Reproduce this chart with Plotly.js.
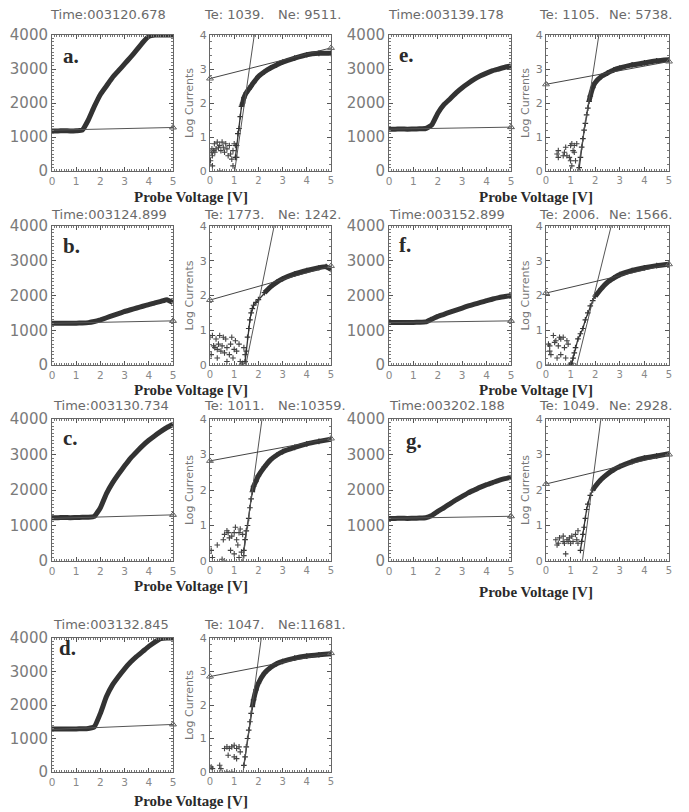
<!DOCTYPE html>
<html><head><meta charset="utf-8">
<script src="https://cdn.plot.ly/plotly-3.0.1.min.js"></script>
<style>html,body{margin:0;padding:0;background:#fff}#chart{width:689px;height:812px}</style>
</head><body><div id="chart"></div>
<script>
// ---------------- DATA ----------------
const panelLetters = ['a.','b.','c.','d.','e.','f.','g.'];
const timeLabels = ['Time:003120.678','Time:003124.899','Time:003130.734','Time:003132.845','Time:003139.178','Time:003152.899','Time:003202.188'];
const teLabels = ['Te: 1039.','Te: 1773.','Te: 1011.','Te: 1047.','Te: 1105.','Te: 2006.','Te: 1049.'];
const neLabels = ['Ne: 9511.','Ne: 1242.','Ne:10359.','Ne:11681.','Ne: 5738.','Ne: 1566.','Ne: 2928.'];
const xTickVals = [0,1,2,3,4,5];
const axisTitle = 'Probe Voltage [V]';
const logTitle = 'Log Currents';

// probe voltage grid for the linear current curves (left panels)
const vGrid = [0,0.25,0.5,0.75,1,1.25,1.5,1.75,2,2.25,2.5,2.75,3,3.25,3.5,3.75,4,4.25,4.5,4.75,5];
const currA = [1180,1180,1185,1180,1185,1200,1500,1900,2250,2500,2750,2950,3150,3350,3560,3780,3960,4000,4000,4000,4000];
const currB = [1200,1200,1205,1200,1205,1210,1220,1250,1300,1360,1420,1480,1540,1590,1640,1690,1740,1790,1830,1880,1800];
const currC = [1220,1220,1225,1220,1225,1230,1235,1260,1500,1900,2200,2450,2680,2900,3080,3250,3400,3530,3650,3760,3850];
const currD = [1280,1280,1285,1280,1285,1290,1300,1350,1750,2250,2600,2850,3080,3280,3450,3600,3750,3880,3980,4000,4000];
const currE = [1230,1230,1235,1230,1235,1240,1250,1350,1700,1950,2120,2300,2450,2580,2700,2800,2880,2950,3000,3050,3090];
const currF = [1220,1220,1225,1220,1225,1230,1240,1320,1400,1460,1520,1580,1640,1700,1750,1800,1850,1900,1940,1970,2000];
const currG = [1200,1200,1205,1200,1205,1210,1220,1280,1400,1500,1610,1720,1820,1920,2000,2080,2150,2210,2270,2320,2360];
// ion-saturation fit line on the linear panels (value at 0 V and at 5 V)
const fitLinStart = [1200,1200,1200,1270,1230,1220,1200];
const fitLinEnd   = [1280,1270,1300,1420,1290,1270,1260];

// log-current main curves (right panels)
const logVA = [1.05,1.1,1.15,1.2,1.25,1.3,1.35,1.4,1.5,1.6,1.7,1.8,2,2.25,2.5,2.75,3,3.5,4,4.5,5];
const logIA = [0.4,0.75,1.1,1.25,1.6,1.9,2.0,2.15,2.3,2.4,2.5,2.6,2.78,2.92,3.03,3.12,3.2,3.32,3.42,3.46,3.46];
const logVB = [1.45,1.5,1.55,1.6,1.65,1.7,1.75,1.8,1.9,2,2.25,2.5,2.75,3,3.5,4,4.5,4.8,5];
const logIB = [0.1,0.4,0.8,1.05,1.3,1.5,1.62,1.72,1.8,1.88,2.08,2.25,2.38,2.48,2.62,2.72,2.8,2.83,2.75];
const logVC = [1.4,1.45,1.5,1.55,1.6,1.65,1.7,1.75,1.8,1.9,2,2.25,2.5,2.75,3,3.5,4,4.5,5];
const logIC = [0.3,0.6,0.85,1.0,1.2,1.5,1.75,1.95,2.1,2.25,2.4,2.65,2.85,2.98,3.08,3.2,3.3,3.37,3.43];
const logVD = [1.4,1.45,1.5,1.55,1.6,1.65,1.7,1.75,1.8,1.9,2,2.25,2.5,2.75,3,3.5,4,4.5,5];
const logID = [0.2,0.45,0.75,1.0,1.25,1.5,1.75,1.95,2.15,2.45,2.65,2.95,3.12,3.23,3.3,3.4,3.46,3.5,3.53];
const logVE = [1.35,1.4,1.45,1.5,1.55,1.6,1.65,1.7,1.75,1.8,1.9,2,2.25,2.5,2.75,3,3.5,4,4.5,5];
const logIE = [0.1,0.4,0.7,0.95,1.2,1.4,1.65,1.85,2.05,2.2,2.45,2.6,2.78,2.88,2.97,3.03,3.12,3.18,3.24,3.27];
const logVF = [1.0,1.05,1.1,1.15,1.2,1.3,1.4,1.5,1.6,1.7,1.8,1.9,2,2.25,2.5,2.75,3,3.5,4,4.5,5];
const logIF = [0.0,0.05,0.2,0.35,0.5,0.75,0.9,1.05,1.3,1.5,1.7,1.85,1.98,2.2,2.38,2.5,2.6,2.72,2.8,2.86,2.9];
const logVG = [1.4,1.45,1.5,1.55,1.6,1.65,1.7,1.8,1.9,2,2.25,2.5,2.75,3,3.5,4,4.5,5];
const logIG = [0.3,0.55,0.75,0.95,1.2,1.45,1.6,1.85,2.0,2.1,2.3,2.45,2.57,2.66,2.8,2.9,2.96,3.02];

// scattered low-voltage points (right panels)
const noiseXA = [0.02,0.05,0.08,0.1,0.15,0.18,0.2,0.25,0.3,0.35,0.4,0.45,0.5,0.55,0.6,0.65,0.7,0.75,0.8,0.85,0.9,0.95,1.0,1.05,1.1,0.4,0.1,0.95];
const noiseYA = [0.3,0.55,0.65,0.45,0.6,0.8,0.55,0.65,0.85,0.7,0.75,0.6,0.85,0.7,0.55,0.8,0.65,0.45,0.75,0.5,0.35,0.15,0.8,0.75,0.4,0.0,0.15,0.6];
const noiseXB = [0.0,0.05,0.1,0.15,0.2,0.25,0.3,0.35,0.4,0.45,0.5,0.55,0.6,0.65,0.7,0.8,0.85,0.9,1.0,1.05,1.1,1.2,1.25,1.3,1.35,1.4,1.45,0.7,0.95,0.3];
const noiseYB = [0.8,0.3,0.85,0.55,0.5,0.75,0.45,0.6,0.85,0.4,0.55,0.8,0.35,0.75,0.5,0.3,0.6,0.8,0.45,0.7,0.4,0.6,0.1,0.0,0.05,0.5,0.3,0.1,0.2,0.2];
const noiseXC = [0.05,0.1,0.3,0.5,0.55,0.6,0.7,0.75,0.8,0.85,0.9,1.0,1.05,1.1,1.15,1.2,1.25,1.3,1.35,1.0,1.2,0.6,1.4];
const noiseYC = [0.3,0.1,0.45,0.05,0.6,0.75,0.85,0.8,0.65,0.3,0.7,0.8,0.95,0.6,0.45,0.8,0.9,0.25,0.75,0.2,0.1,0.0,0.15];
const noiseXD = [0.05,0.1,0.4,0.45,0.6,0.7,0.75,0.8,0.9,1.0,1.0,1.1,1.2,1.1,1.25,0.7,0.9];
const noiseYD = [0.15,0.1,0.2,0.1,0.7,0.75,0.5,0.7,0.75,0.8,0.45,0.7,0.75,0.4,0.6,0.0,0.0];
const noiseXE = [0.45,0.5,0.5,0.75,0.8,0.85,0.95,1.0,1.05,1.1,1.15,1.15,1.2,1.05,1.25,0.7,1.0];
const noiseYE = [0.5,0.4,0.6,0.55,0.7,0.45,0.4,0.75,0.8,0.6,0.55,0.75,0.3,0.15,0.8,0.45,0.3];
const noiseXF = [0.1,0.15,0.15,0.2,0.3,0.35,0.4,0.45,0.5,0.55,0.6,0.6,0.7,0.75,0.8,0.85,0.9,0.1,0.95,1.0];
const noiseYF = [0.6,0.55,0.4,0.3,0.85,0.65,0.7,0.2,0.55,0.8,0.3,0.75,0.8,0.5,0.2,0.7,0.6,0.0,0.0,0.05];
const noiseXG = [0.4,0.45,0.5,0.55,0.7,0.75,0.8,0.85,0.9,0.95,1.05,1.1,1.2,1.25,1.3,1.3,1.0,0.7];
const noiseYG = [0.6,0.45,0.5,0.65,0.7,0.5,0.2,0.6,0.55,0.65,0.7,0.55,0.75,0.6,0.85,0.5,0.5,0.55];

// retardation-region fit (voltage at log=0 and at log=4)
const steepV0 = [1.02,1.48,1.35,1.37,1.3,1.25,1.48];
const steepV4 = [1.83,2.65,2.15,2.12,2.15,2.65,2.23];
// saturation-region fit (log value at 0 V and at 5 V)
const satFit0 = [2.72,1.87,2.82,2.85,2.55,2.07,2.17];
const satFit5 = [3.62,2.85,3.45,3.55,3.22,2.9,3.0];

// ---------------- BUILD ----------------
const currents = [currA,currB,currC,currD,currE,currF,currG];
const logV = [logVA,logVB,logVC,logVD,logVE,logVF,logVG];
const logI = [logIA,logIB,logIC,logID,logIE,logIF,logIG];
const noiseX = [noiseXA,noiseXB,noiseXC,noiseXD,noiseXE,noiseXF,noiseXG];
const noiseY = [noiseYA,noiseYB,noiseYC,noiseYD,noiseYE,noiseYF,noiseYG];

const W = 689, H = 812;
const colPx = [[52,173,210,331],[389,511,546,669]];
const rowPx = [[35,171],[226,365],[419,561],[638,772]];
const titleY = [15,215,405,624];
const timeX = [[49,203,277],[50,203,277],[52,203,277],[52,203,277],[387,538,608],[388,538,608],[388,538,608]];
const letterPos = [[62,56],[62,246],[62,438],[58,648],[398,55],[398,245],[405,441]];
const pvLabelY = [197,390,586,801,197,390,592];
const pvLabelX = [191,191,191,191,536,536,536];

const dark = '#333333';
const traces = [];
const layout = {
  width: W, height: H, margin:{l:0,r:0,t:0,b:0}, showlegend:false,
  paper_bgcolor:'#ffffff', plot_bgcolor:'#ffffff',
  font:{family:'DejaVu Sans', color:'#777'},
  annotations: []
};
function axBase(){
  return {ticks:'inside', ticklen:4, tickcolor:'#555', showline:true, linecolor:'#666', linewidth:1,
          mirror:'allticks', showgrid:false, zeroline:false, fixedrange:true};
}
function ann(text,x,y,opts){
  layout.annotations.push(Object.assign({text:text, x:x/W, y:1-y/H, xref:'paper', yref:'paper',
    showarrow:false, xanchor:'left', yanchor:'middle', borderpad:0,
    font:{family:'DejaVu Sans', size:13, color:'#6a6a6a'}}, opts||{}));
}
for (let i=0;i<7;i++){
  const col = i<4?0:1, row = i<4?i:i-4;
  const cp = colPx[col], rp = rowPx[row];
  const nL = 2*i+1, nR = 2*i+2;
  const key = n => n===1?'':String(n);
  const yd = [1-rp[1]/H, 1-rp[0]/H];
  layout['xaxis'+key(nL)] = Object.assign(axBase(), {domain:[cp[0]/W,cp[1]/W], anchor:'y'+key(nL), range:[0,5],
     tickvals:xTickVals, tickfont:{size:10.5,color:'#888'}, minor:{ticks:'inside',ticklen:2,dtick:0.1,tickcolor:'#777'}});
  layout['yaxis'+key(nL)] = Object.assign(axBase(), {domain:yd, anchor:'x'+key(nL), range:[0,4000], dtick:1000,
     tickfont:{size:15,color:'#7a7a7a'}, minor:{ticks:'inside',ticklen:2,dtick:100,tickcolor:'#777'}});
  layout['xaxis'+key(nR)] = Object.assign(axBase(), {domain:[cp[2]/W,cp[3]/W], anchor:'y'+key(nR), range:[0,5],
     tickvals:xTickVals, tickfont:{size:10,color:'#888'}, minor:{ticks:'inside',ticklen:2,dtick:0.1,tickcolor:'#777'}});
  layout['yaxis'+key(nR)] = Object.assign(axBase(), {domain:yd, anchor:'x'+key(nR), range:[0,4], dtick:1,
     tickfont:{size:11,color:'#7a7a7a'}, minor:{ticks:'inside',ticklen:2,dtick:0.2,tickcolor:'#777'},
     title:{text:logTitle, font:{size:11,color:'#777'}, standoff:3}});
  const xl='x'+key(nL), yl='y'+key(nL), xr='x'+key(nR), yr='y'+key(nR);
  // left: current curve
  traces.push({type:'scatter', mode:'lines', x:vGrid, y:currents[i], xaxis:xl, yaxis:yl,
    line:{color:dark, width:5, shape:'spline', smoothing:0.4}});
  traces.push({type:'scatter', mode:'lines', x:[0,5], y:[fitLinStart[i],fitLinEnd[i]], xaxis:xl, yaxis:yl,
    line:{color:'#555', width:1}});
  traces.push({type:'scatter', mode:'markers', x:[5], y:[fitLinEnd[i]], xaxis:xl, yaxis:yl, cliponaxis:false,
    marker:{symbol:'triangle-up-open', size:6, color:'#555', line:{width:1}}});
  // right: log current
  traces.push({type:'scatter', mode:'markers', x:noiseX[i], y:noiseY[i], xaxis:xr, yaxis:yr,
    marker:{symbol:'cross-thin-open', size:4, color:'#444', line:{width:1.1, color:'#444'}}});
  traces.push({type:'scatter', mode:'lines+markers', x:logV[i], y:logI[i], xaxis:xr, yaxis:yr,
    line:{color:dark, width:1.3}, marker:{symbol:'cross-thin-open', size:4, color:dark, line:{width:1.2,color:dark}}});
  const k = logI[i].findIndex(v => v >= 1.9);
  traces.push({type:'scatter', mode:'lines', x:logV[i].slice(k), y:logI[i].slice(k), xaxis:xr, yaxis:yr,
    line:{color:dark, width:5, shape:'spline', smoothing:0.4}});
  traces.push({type:'scatter', mode:'lines', x:[steepV0[i],steepV4[i]], y:[0,4], xaxis:xr, yaxis:yr,
    line:{color:'#555', width:1}});
  traces.push({type:'scatter', mode:'lines', x:[0,5], y:[satFit0[i],satFit5[i]], xaxis:xr, yaxis:yr,
    line:{color:'#444', width:1}});
  traces.push({type:'scatter', mode:'markers', x:[0,5], y:[satFit0[i],satFit5[i]], xaxis:xr, yaxis:yr, cliponaxis:false,
    marker:{symbol:'triangle-up-open', size:6, color:'#666', line:{width:1}}});
  // text
  ann(timeLabels[i], timeX[i][0], titleY[row]);
  ann(teLabels[i], timeX[i][1], titleY[row]);
  ann(neLabels[i], timeX[i][2], titleY[row]);
  ann(panelLetters[i], letterPos[i][0], letterPos[i][1], {font:{family:'Liberation Serif', size:21, color:'#2a2a2a', weight:'bold'}});
  ann(axisTitle, pvLabelX[i], pvLabelY[i], {xanchor:'center', font:{family:'Liberation Serif', size:15, color:'#2a2a2a', weight:'bold'}});
}
Plotly.newPlot('chart', traces, layout, {staticPlot:true});
</script>
</body></html>
